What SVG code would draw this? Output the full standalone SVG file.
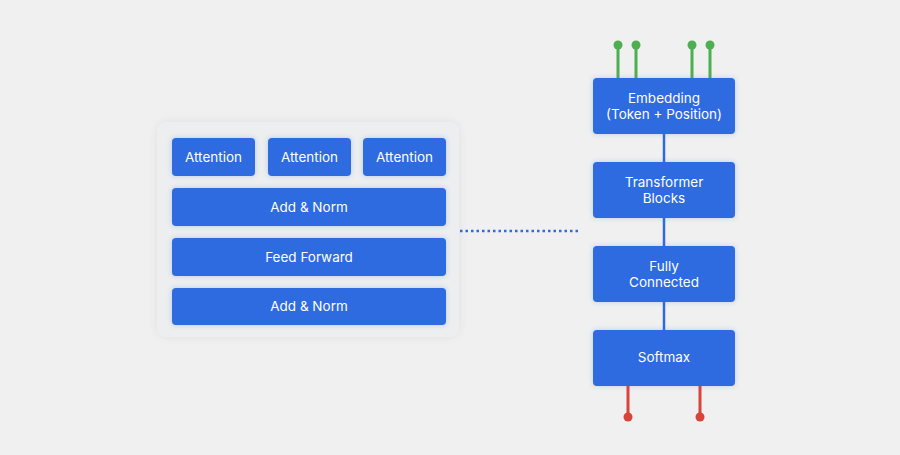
<svg xmlns="http://www.w3.org/2000/svg" width="900" height="455" viewBox="0 0 900 455">
<defs>
<filter id="bshadow" x="-30%" y="-40%" width="160%" height="180%">
<feGaussianBlur in="SourceAlpha" stdDeviation="2.5" result="b"/>
<feFlood flood-color="#2d6be0" flood-opacity="0.3"/>
<feComposite operator="in" in2="b"/>
<feMerge><feMergeNode/><feMergeNode in="SourceGraphic"/></feMerge>
</filter>
<filter id="pshadow" x="-10%" y="-10%" width="120%" height="120%">
<feGaussianBlur in="SourceAlpha" stdDeviation="4" result="b"/>
<feFlood flood-color="#000" flood-opacity="0.07"/>
<feComposite operator="in" in2="b"/>
<feMerge><feMergeNode/><feMergeNode in="SourceGraphic"/></feMerge>
</filter>
</defs>
<style>
.box{fill:#2d6be0;filter:url(#bshadow)}
.t{fill:#ffffff;font-family:Inter,"Noto Sans",sans-serif;font-size:13.5px;text-anchor:middle}
.g{stroke:#4caf50;stroke-width:3}
.gd{fill:#4caf50}
.r{stroke:#d9443a;stroke-width:3}
.rd{fill:#d9443a}
</style>
<rect width="900" height="455" fill="#f0f0f0"/>
<g id="connectors">
<line x1="664" y1="134" x2="664" y2="330" stroke="#2d6be0" stroke-width="2.5"/>
<line x1="460" y1="231" x2="581" y2="231" stroke="#2d6be0" stroke-width="2.5" stroke-dasharray="2.5 3"/>
<line class="g" x1="618" y1="45" x2="618" y2="78"/>
<line class="g" x1="636" y1="45" x2="636" y2="78"/>
<line class="g" x1="692" y1="45" x2="692" y2="78"/>
<line class="g" x1="710" y1="45" x2="710" y2="78"/>
<circle class="gd" cx="618" cy="45" r="4.5"/>
<circle class="gd" cx="636" cy="45" r="4.5"/>
<circle class="gd" cx="692" cy="45" r="4.5"/>
<circle class="gd" cx="710" cy="45" r="4.5"/>
<line class="r" x1="628" y1="386" x2="628" y2="417"/>
<line class="r" x1="700" y1="386" x2="700" y2="417"/>
<circle class="rd" cx="628" cy="417" r="4.5"/>
<circle class="rd" cx="700" cy="417" r="4.5"/>
</g>
<g id="panel">
<rect x="157" y="122" width="302" height="215" rx="10" fill="#eceeef" filter="url(#pshadow)"/>
</g>
<g id="attention1"><rect class="box" x="172" y="138" width="83" height="38" rx="4"/><text class="t" x="213.5" y="162">Attention</text></g>
<g id="attention2"><rect class="box" x="268" y="138" width="83" height="38" rx="4"/><text class="t" x="309.5" y="162">Attention</text></g>
<g id="attention3"><rect class="box" x="363" y="138" width="83" height="38" rx="4"/><text class="t" x="404.5" y="162">Attention</text></g>
<g id="addnorm1"><rect class="box" x="172" y="188" width="274" height="38" rx="4"/><text class="t" x="309" y="212">Add &amp; Norm</text></g>
<g id="feedforward"><rect class="box" x="172" y="238" width="274" height="38" rx="4"/><text class="t" x="309" y="262">Feed Forward</text></g>
<g id="addnorm2"><rect class="box" x="172" y="288" width="274" height="37" rx="4"/><text class="t" x="309" y="311">Add &amp; Norm</text></g>
<g id="embedding"><rect class="box" x="593" y="78" width="142" height="56" rx="4"/><text class="t" x="664" y="103">Embedding</text><text class="t" x="664" y="119">(Token + Position)</text></g>
<g id="transformer"><rect class="box" x="593" y="162" width="142" height="56" rx="4"/><text class="t" x="664" y="187">Transformer</text><text class="t" x="664" y="203">Blocks</text></g>
<g id="fullyconnected"><rect class="box" x="593" y="246" width="142" height="56" rx="4"/><text class="t" x="664" y="271">Fully</text><text class="t" x="664" y="287">Connected</text></g>
<g id="softmax"><rect class="box" x="593" y="330" width="142" height="56" rx="4"/><text class="t" x="664" y="362">Softmax</text></g>
</svg>
